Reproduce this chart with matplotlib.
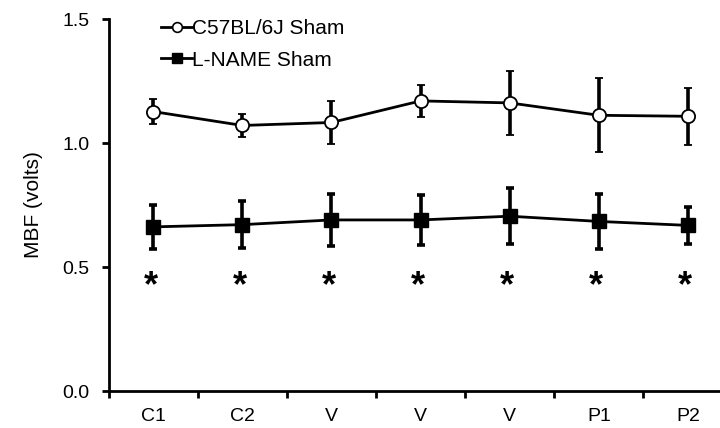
import matplotlib.pyplot as plt
from matplotlib.lines import Line2D
import numpy as np

plt.rcParams['font.family'] = ['Liberation Sans', 'DejaVu Sans']

# time points
labels = ['C1', 'C2', 'V', 'V', 'V', 'P1', 'P2']

# C57BL/6J Sham
c57_mean = [1.127, 1.071, 1.083, 1.170, 1.162, 1.112, 1.108]
c57_err = [0.050, 0.047, 0.085, 0.065, 0.130, 0.150, 0.115]

# L-NAME Sham
lname_mean = [0.662, 0.671, 0.690, 0.690, 0.705, 0.684, 0.668]
lname_err = [0.090, 0.095, 0.105, 0.100, 0.112, 0.112, 0.074]

star_y = 0.42

fig = plt.figure(figsize=(7.2, 4.28), dpi=100)
ax = fig.add_axes([0.151, 0.0864, 0.849, 0.869])

x = np.arange(len(labels)) + 0.5

ax.errorbar(x, c57_mean, yerr=c57_err, color='black', lw=2, elinewidth=2.6,
            capsize=3, capthick=2.6, marker='o', ms=9.5, mfc='white', mec='black',
            mew=1.3, zorder=3)
ax.errorbar(x, lname_mean, yerr=lname_err, color='black', lw=2, elinewidth=2.6,
            capsize=3, capthick=2.6, marker='s', ms=10, mfc='black', mec='black',
            zorder=3)

for xi in x:
    ax.text(xi - 0.03, star_y, '*', ha='center', va='center', fontsize=26,
            fontweight='bold')

ax.set_ylim(0, 1.5)
ax.set_xlim(0, 6.86)
ax.set_yticks([0.0, 0.5, 1.0, 1.5])
ax.set_yticklabels(['0.0', '0.5', '1.0', '1.5'])
ax.set_xticks(np.arange(0, 7))
ax.set_xticklabels([])
ax.set_xticks(x, minor=True)
ax.set_xticklabels(labels, minor=True)
ax.tick_params(axis='x', which='minor', length=0, pad=12, labelsize=14)
ax.tick_params(axis='x', which='major', length=5, width=2, direction='out')
ax.tick_params(axis='y', length=5, width=2, direction='out', labelsize=14, pad=9)

ax.spines['top'].set_visible(False)
ax.spines['right'].set_visible(False)
ax.spines['left'].set_linewidth(2)
ax.spines['bottom'].set_linewidth(2)

ax.set_ylabel('MBF (volts)', fontsize=15, labelpad=14)

handles = [
    Line2D([], [], color='black', lw=2, marker='o', ms=7, mfc='white',
           mec='black', mew=1.2),
    Line2D([], [], color='black', lw=2, marker='s', ms=7, mfc='black',
           mec='black'),
]
ax.legend(handles, ['C57BL/6J Sham', 'L-NAME Sham'], loc='upper left',
          bbox_to_anchor=(0.055, 1.05), frameon=False, fontsize=15,
          handlelength=1.5, handletextpad=0.0, labelspacing=0.6)

fig.savefig('out.png', dpi=100)
